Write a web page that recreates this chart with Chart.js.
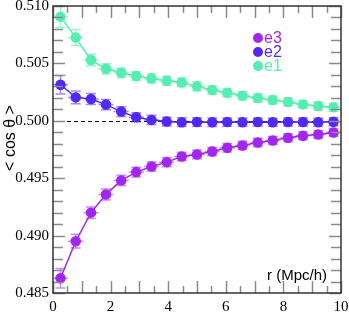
<!DOCTYPE html>
<html>
<head>
<meta charset="utf-8">
<script src="https://cdn.jsdelivr.net/npm/chart.js@4/dist/chart.umd.min.js"></script>
<style>
  body { margin: 0; background: #fff; }
  canvas { display: block; }
</style>
</head>
<body>
<canvas id="my-chart" width="349" height="317"></canvas>
<script>
// centres des bins en r (Mpc/h)
let rValues = [0.26, 0.79, 1.32, 1.84, 2.37, 2.89, 3.42, 3.95, 4.47, 5.00, 5.53, 6.05, 6.58, 7.11, 7.63, 8.16, 8.68, 9.21, 9.74];
let halfBin = 0.263;

let e1Values = [0.50907, 0.50725, 0.50529, 0.50453, 0.50418, 0.50390, 0.50369, 0.50349, 0.50334, 0.50300, 0.50268, 0.50245, 0.50219, 0.50199, 0.50181, 0.50164, 0.50143, 0.50129, 0.50117];
let e2Values = [0.50314, 0.50204, 0.50190, 0.50141, 0.50080, 0.50031, 0.50008, 0.49993, 0.49988, 0.49990, 0.49987, 0.49989, 0.49988, 0.49990, 0.49988, 0.49989, 0.49990, 0.49988, 0.49991];
let e3Values = [0.48628, 0.48951, 0.49200, 0.49359, 0.49481, 0.49553, 0.49602, 0.49640, 0.49689, 0.49707, 0.49733, 0.49765, 0.49785, 0.49811, 0.49828, 0.49852, 0.49869, 0.49880, 0.49898];

let e1Errors = [0.00095, 0.0007, 0.0005, 0.00045, 0.0004, 0.0004, 0.0004, 0.0004, 0.00038, 0.00038, 0.00036, 0.00036, 0.00035, 0.00035, 0.00035, 0.00034, 0.00034, 0.00034, 0.00034];
let e2Errors = [0.0008, 0.00055, 0.00048, 0.00045, 0.00042, 0.0004, 0.0004, 0.00038, 0.00038, 0.00037, 0.00037, 0.00036, 0.00036, 0.00035, 0.00035, 0.00035, 0.00035, 0.00035, 0.00035];
let e3Errors = [0.00085, 0.0006, 0.0005, 0.00048, 0.00045, 0.00042, 0.0004, 0.0004, 0.00038, 0.00038, 0.00037, 0.00037, 0.00036, 0.00036, 0.00035, 0.00035, 0.00035, 0.00035, 0.00035];

let yTickLabels = ['0.485', '0.490', '0.495', '0.500', '0.505', '0.510'];
let xTickLabels = ['0', '2', '4', '6', '8', '10'];
let seriesNames = ['e3', 'e2', 'e1'];

let colors = { e1: '#55eeb0', e2: '#5228f2', e3: '#a226f0' };
let barColors = { e1: 'rgba(85,238,176,0.6)', e2: 'rgba(82,40,242,0.55)', e3: 'rgba(162,38,240,0.55)' };

let sans = '"Liberation Sans", Arial, sans-serif';
let serif = '"Liberation Serif", "Times New Roman", serif';

function toPoints(values) {
    return values.map((v, i) => ({ x: rValues[i], y: v }));
}

function makeDataset(name, values, errors) {
    return {
        label: name,
        data: toPoints(values),
        errors: errors,
        borderColor: colors[name],
        backgroundColor: colors[name],
        pointBackgroundColor: colors[name],
        pointBorderColor: colors[name],
        pointRadius: 4.5,
        pointHoverRadius: 4.5,
        borderWidth: 1.5,
        showLine: true,
        tension: 0
    };
}

// barres d'erreur + ligne pointillée à 0.5
let errorBars = {
    id: 'errorBars',
    beforeDatasetsDraw(chart) {
        let ctx = chart.ctx;
        let xs = chart.scales.x;
        let ys = chart.scales.y;
        let area = chart.chartArea;

        ctx.save();
        ctx.strokeStyle = '#000';
        ctx.lineWidth = 1;
        ctx.setLineDash([4, 3]);
        let y0 = Math.round(ys.getPixelForValue(0.5)) + 0.5;
        ctx.beginPath();
        ctx.moveTo(area.left, y0);
        ctx.lineTo(area.right, y0);
        ctx.stroke();
        ctx.setLineDash([]);

        chart.data.datasets.forEach((ds) => {
            ctx.strokeStyle = barColors[ds.label];
            ctx.lineWidth = 1.5;
            ds.data.forEach((p, i) => {
                let px = xs.getPixelForValue(p.x);
                let py = ys.getPixelForValue(p.y);
                let top = Math.max(ys.getPixelForValue(p.y + ds.errors[i]), area.top);
                let bot = ys.getPixelForValue(p.y - ds.errors[i]);
                let left = xs.getPixelForValue(p.x - halfBin);
                let right = xs.getPixelForValue(p.x + halfBin);
                let cap = 5;
                ctx.beginPath();
                ctx.moveTo(px, top);
                ctx.lineTo(px, bot);
                ctx.moveTo(left, py);
                ctx.lineTo(right, py);
                ctx.moveTo(px - cap, top);
                ctx.lineTo(px + cap, top);
                ctx.moveTo(px - cap, bot);
                ctx.lineTo(px + cap, bot);
                ctx.stroke();
            });
        });
        ctx.restore();
    }
};

// cadre, graduations intérieures, titres et légende
let frameDecor = {
    id: 'frameDecor',
    afterDraw(chart) {
        let ctx = chart.ctx;
        let xs = chart.scales.x;
        let ys = chart.scales.y;
        let a = chart.chartArea;
        ctx.save();

        ctx.strokeStyle = '#8a8a8a';
        ctx.lineWidth = 1.5;
        ctx.beginPath();
        for (let k = 0; k <= 25; k++) {
            let py = Math.round(ys.getPixelForValue(0.485 + k * 0.001)) + 0.5;
            let len = (k % 5 == 0) ? 12 : 10;
            ctx.moveTo(a.left, py);
            ctx.lineTo(a.left + len, py);
            ctx.moveTo(a.right, py);
            ctx.lineTo(a.right - len, py);
        }
        for (let k = 0; k <= 20; k++) {
            let px = Math.round(xs.getPixelForValue(k * 0.5)) + 0.5;
            let len = (k % 2 == 0) ? 12 : 7;
            ctx.moveTo(px, a.bottom);
            ctx.lineTo(px, a.bottom - len);
            ctx.moveTo(px, a.top);
            ctx.lineTo(px, a.top + len);
        }
        ctx.stroke();

        ctx.strokeStyle = '#333';
        ctx.lineWidth = 1.5;
        ctx.strokeRect(a.left, a.top, a.right - a.left, a.bottom - a.top);

        // titre axe y
        ctx.fillStyle = '#000';
        ctx.font = '16px ' + sans;
        ctx.textAlign = 'center';
        ctx.textBaseline = 'middle';
        ctx.translate(11, 138);
        ctx.rotate(-Math.PI / 2);
        ctx.fillText('< cos θ >', 0, 0);
        ctx.setTransform(1, 0, 0, 1, 0, 0);

        // titre axe x
        ctx.font = '15px ' + sans;
        ctx.textAlign = 'right';
        ctx.textBaseline = 'middle';
        ctx.fillText('r (Mpc/h)', 327, 276);

        // légende
        ctx.font = '16px ' + sans;
        ctx.textAlign = 'left';
        seriesNames.forEach((name, i) => {
            let ly = 38 + i * 14;
            ctx.fillStyle = colors[name];
            ctx.beginPath();
            ctx.arc(258, ly, 5, 0, Math.PI * 2);
            ctx.fill();
            ctx.fillText(name, 264, ly + 1);
        });

        ctx.restore();
    }
};

let myChart = new Chart(
    document.querySelector('#my-chart'),
    {
        type: 'scatter',
        data: {
            datasets: [
                makeDataset('e1', e1Values, e1Errors),
                makeDataset('e2', e2Values, e2Errors),
                makeDataset('e3', e3Values, e3Errors)
            ]
        },
        plugins: [errorBars, frameDecor],
        options: {
            responsive: false,
            animation: false,
            devicePixelRatio: 1,
            layout: { padding: { top: 5, right: 8, left: 0, bottom: 0 } },
            plugins: {
                legend: { display: false },
                tooltip: { enabled: false }
            },
            scales: {
                x: {
                    type: 'linear',
                    min: 0,
                    max: 10,
                    grid: { display: false, drawTicks: false },
                    border: { display: false },
                    afterFit(scale) {
                        scale.height = 24;
                        scale.paddingLeft = 0;
                        scale.paddingRight = 0;
                    },
                    afterBuildTicks(scale) {
                        scale.ticks = xTickLabels.map(t => ({ value: parseFloat(t) }));
                    },
                    ticks: {
                        padding: 5,
                        color: '#000',
                        font: { family: serif, size: 15 },
                        maxRotation: 0,
                        autoSkip: false,
                        callback: (v) => xTickLabels.find(t => parseFloat(t) == v)
                    }
                },
                y: {
                    type: 'linear',
                    min: 0.485,
                    max: 0.510,
                    grid: { display: false, drawTicks: false },
                    border: { display: false },
                    afterFit(scale) {
                        scale.width = 53;
                        scale.paddingTop = 0;
                        scale.paddingBottom = 0;
                    },
                    afterBuildTicks(scale) {
                        scale.ticks = yTickLabels.map(t => ({ value: parseFloat(t) }));
                    },
                    ticks: {
                        padding: 4,
                        color: '#000',
                        font: { family: serif, size: 15 },
                        autoSkip: false,
                        callback: (v) => yTickLabels.find(t => Math.abs(parseFloat(t) - v) < 1e-6)
                    }
                }
            }
        }
    }
);
</script>
</body>
</html>
